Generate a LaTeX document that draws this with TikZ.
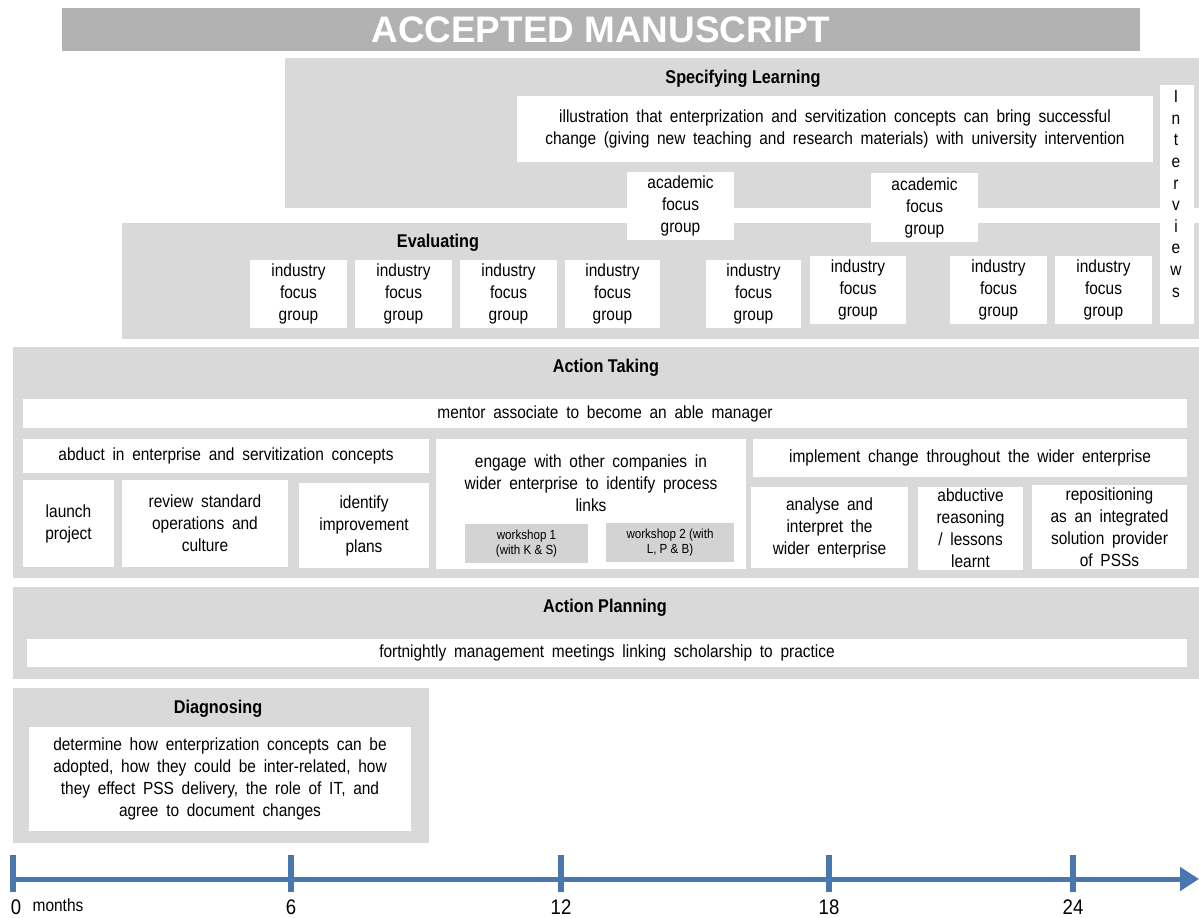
\documentclass[tikz,border=0pt]{standalone}
\usepackage{fontspec}
\setmainfont{Liberation Sans}[FakeStretch=0.88]
\newfontfamily\bannerfont{Liberation Sans}
\usepackage{xcolor}
\usetikzlibrary{arrows.meta}

\definecolor{bannergray}{HTML}{B2B2B2}
\definecolor{panelgray}{HTML}{D9D9D9}
\definecolor{shopgray}{HTML}{D3D3D3}
\definecolor{axisblue}{HTML}{4A76B0}

\newcommand\boxfont{\fontsize{10}{12.5}\selectfont\spaceskip=4.4pt plus 1pt}

\begin{document}
\begin{tikzpicture}[x=0.02cm, y=-0.02cm,
    panel/.style={fill=panelgray},
    phase/.style={font=\fontsize{10.5}{12}\selectfont\bfseries},
    wbox/.style 2 args={fill=white, align=center, inner sep=1pt,
        minimum width=#1*0.02cm, minimum height=#2*0.02cm,
        font=\boxfont},
    shop/.style={fill=shopgray, align=center, inner sep=1pt,
        minimum width=#1*0.02cm, minimum height=0.78cm,
        font=\fontsize{7.5}{9}\selectfont},
    axis/.style={draw=axisblue, line width=0.1cm},
    tick/.style={draw=axisblue, line width=0.12cm},
    month/.style={font=\fontsize{12}{14}\selectfont}]
                \useasboundingbox (0,0) rectangle (1199,917);

                % banner
                \fill[bannergray] (62,8) rectangle (1140,51);
                \node[text=white, font=\bannerfont\fontsize{21}{24}\selectfont\bfseries] (banner) at (601,30) {ACCEPTED MANUSCRIPT};

                % Specifying Learning
                \fill[panel] (285,58) rectangle (1199,208);
                \node[phase] (spec) at (743,79) {Specifying Learning};
                \node[wbox={636}{66}] (illus) at (835,129) {illustration that enterprization and servitization concepts can bring successful\\change (giving new teaching and research materials) with university intervention};

                % Evaluating
                \fill[panel] (122,223) rectangle (1199,339);
                \node[phase] (eval) at (438,243) {Evaluating};
                \node[wbox={107}{68}] (acad1) at (680.5,206) {academic\\focus\\group};
                \node[wbox={107}{69}] (acad2) at (924.5,207.5) {academic\\focus\\group};
                \node[wbox={97}{68}] (ind1) at (298.5,294) {industry\\focus\\group};
                \node[wbox={97}{68}] (ind2) at (403.5,294) {industry\\focus\\group};
                \node[wbox={97}{68}] (ind3) at (508.5,294) {industry\\focus\\group};
                \node[wbox={95}{68}] (ind4) at (612.5,294) {industry\\focus\\group};
                \node[wbox={95}{68}] (ind5) at (753.5,294) {industry\\focus\\group};
                \node[wbox={96}{68}] (ind6) at (858,290) {industry\\focus\\group};
                \node[wbox={97}{68}] (ind7) at (998.5,290) {industry\\focus\\group};
                \node[wbox={97}{68}] (ind8) at (1103.5,290) {industry\\focus\\group};

                % interviews column
                \node[wbox={34}{239}] (intv) at (1177,204.5) {};
                \node[align=center, inner sep=0pt, font=\fontsize{10}{12.3}\selectfont] (intvtxt) at (1176,194) {I\\n\\t\\e\\r\\v\\i\\e\\w\\s};

                % Action Taking
                \fill[panel] (13,347) rectangle (1199,578);
                \node[phase] (acttake) at (606,368) {Action Taking};
                \node[wbox={1164}{29}] (mentor) at (605,413.5) {mentor associate to become an able manager};
                \node[wbox={406}{34}] (abduct) at (226,456) {abduct in enterprise and servitization concepts};
                \node[wbox={91}{87}] (launch) at (68.5,523.5) {launch\\project};
                \node[wbox={166}{87}] (review) at (205,523.5) {review standard\\operations and\\culture};
                \node[wbox={130}{85}] (identify) at (364,525.5) {identify\\improvement\\plans};
                \node[wbox={310}{130}] (engage) at (591,504) {};
                \node[align=center, font=\boxfont] (engagetxt) at (591,483) {engage with other companies in\\wider enterprise to identify process\\links};
                \node[shop=123] (shop1) at (526.5,543.5) {workshop 1\\(with K \& S)};
                \node[shop=128] (shop2) at (670,542.5) {workshop 2 (with\\L, P \& B)};
                \node[wbox={434}{38}] (implement) at (970,458) {implement change throughout the wider enterprise};
                \node[wbox={157}{81}] (analyse) at (829.5,527.5) {analyse and\\interpret the\\wider enterprise};
                \node[wbox={105}{83}] (abductive) at (970.5,528.5) {abductive\\reasoning\\/ lessons\\learnt};
                \node[wbox={155}{84}] (reposition) at (1109.5,527) {repositioning\\as an integrated\\solution provider\\of PSSs};

                % Action Planning
                \fill[panel] (13,587) rectangle (1199,679);
                \node[phase] (actplan) at (605,608) {Action Planning};
                \node[wbox={1160}{28}] (fortnight) at (607,653) {fortnightly management meetings linking scholarship to practice};

                % Diagnosing
                \fill[panel] (13,688) rectangle (429,843);
                \node[phase] (diagnose) at (218,709) {Diagnosing};
                \node[wbox={382}{104}] (diag) at (220,779) {determine how enterprization concepts can be\\adopted, how they could be inter-related, how\\they effect PSS delivery, the role of IT, and\\agree to document changes};

                % time axis
                \coordinate (axisstart) at (13,879);
                \coordinate (axisend) at (1199,879);
                \draw[axis, -{Triangle[length=0.38cm, width=0.46cm]}] (axisstart) -- (axisend);
                \draw[tick] (13,855) -- (13,892);
                \draw[tick] (291,855) -- (291,892);
                \draw[tick] (561,855) -- (561,892);
                \draw[tick] (829,855) -- (829,892);
                \draw[tick] (1073,855) -- (1073,892);
                \node[month] (m0) at (16,907) {0};
                \node[font=\fontsize{10}{12}\selectfont] (mlabel) at (58,905) {months};
                \node[month] (m6) at (291,907) {6};
                \node[month] (m12) at (561,907) {12};
                \node[month] (m18) at (829,907) {18};
                \node[month] (m24) at (1073,907) {24};
            \end{tikzpicture}
\end{document}
